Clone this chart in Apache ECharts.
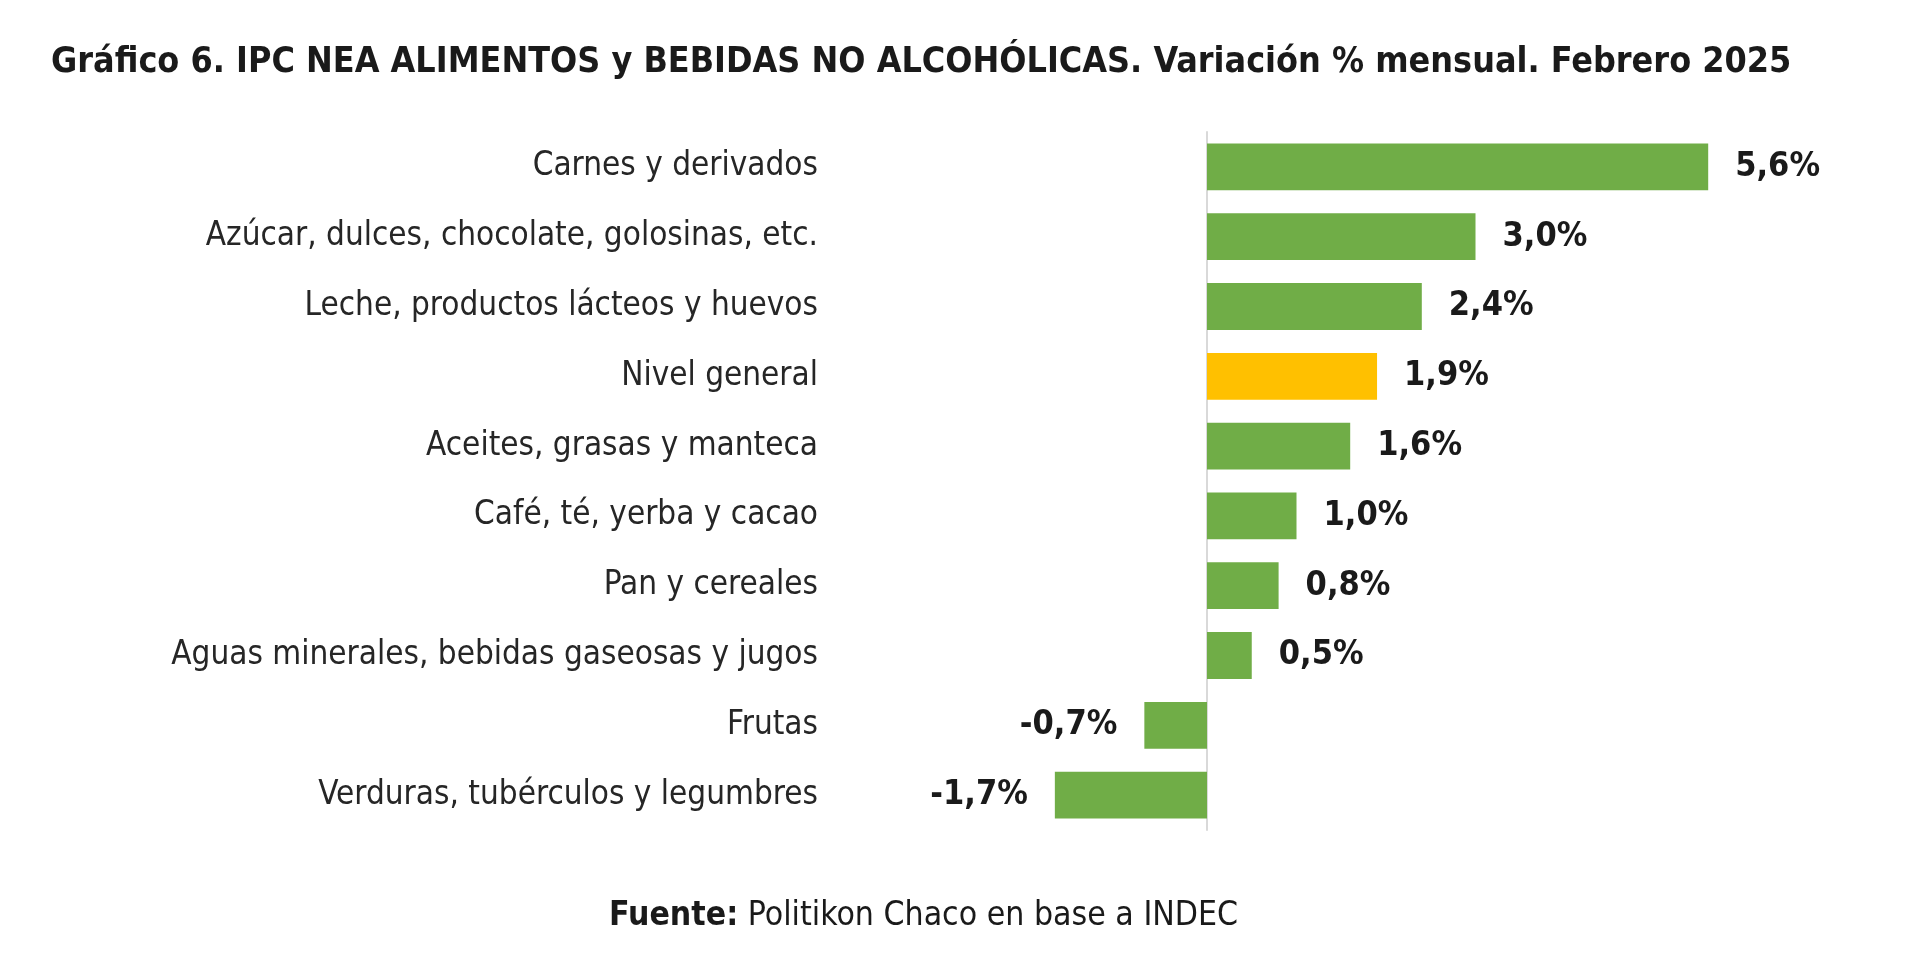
<!DOCTYPE html>
<html>
<head>
<meta charset="utf-8">
<title>IPC NEA Alimentos</title>
<script src="https://cdn.jsdelivr.net/npm/echarts@6/dist/echarts.min.js"></script>
<style>
    html, body { margin: 0; padding: 0; background: #fff; }
    #chart { width: 1920px; height: 965px; }
</style>
</head>
<body>
<div id="chart"></div>
<script>
// datos del gráfico
const categorias = [
    "Carnes y derivados",
    "Azúcar, dulces, chocolate, golosinas, etc.",
    "Leche, productos lácteos y huevos",
    "Nivel general",
    "Aceites, grasas y manteca",
    "Café, té, yerba y cacao",
    "Pan y cereales",
    "Aguas minerales, bebidas gaseosas y jugos",
    "Frutas",
    "Verduras, tubérculos y legumbres"
];
const variacion = [5.6, 3.0, 2.4, 1.9, 1.6, 1.0, 0.8, 0.5, -0.7, -1.7];
const destacado = "Nivel general";

const verde = "#70AD47";
const amarillo = "#FFC000";
const fuenteTexto = "'Liberation Sans Narrow', 'DejaVu Sans Condensed', sans-serif";

const ecIns = echarts.init(document.getElementById("chart"));

const option = {
    backgroundColor: "#fff",
    animation: false,
    title: [
        {
            text: "Gráfico 6. IPC NEA ALIMENTOS y BEBIDAS NO ALCOHÓLICAS. Variación % mensual. Febrero 2025",
            left: 46,
            top: 40,
            textStyle: {
                fontFamily: fuenteTexto,
                fontWeight: "bold",
                fontSize: 35.6,
                color: "#1a1a1a"
            }
        },
        {
            // fuente al pie
            text: "{b|Fuente:} Politikon Chaco en base a INDEC",
            left: 604,
            top: 894,
            textStyle: {
                fontFamily: fuenteTexto,
                fontSize: 33.5,
                fontWeight: "normal",
                color: "#1a1a1a",
                rich: {
                    b: {
                        fontFamily: fuenteTexto,
                        fontSize: 33.5,
                        fontWeight: "bold",
                        color: "#1a1a1a"
                    }
                }
            }
        }
    ],
    grid: {
        left: 1028,
        width: 716,
        top: 132,
        height: 698
    },
    xAxis: {
        type: "value",
        min: -2,
        max: 6,
        show: false
    },
    yAxis: {
        type: "category",
        inverse: true,
        data: categorias,
        axisLine: {
            onZero: true,
            lineStyle: { color: "#D9D9D9", width: 2 }
        },
        axisTick: { show: false },
        axisLabel: {
            margin: 210,
            fontFamily: fuenteTexto,
            fontSize: 33,
            color: "#262626"
        }
    },
    series: [
        {
            type: "bar",
            barCategoryGap: "33%",
            data: variacion.map((v, i) => ({
                value: v,
                itemStyle: { color: categorias[i] === destacado ? amarillo : verde },
                label: { position: v < 0 ? "left" : "right" }
            })),
            label: {
                show: true,
                distance: 27,
                fontFamily: fuenteTexto,
                fontSize: 34,
                fontWeight: "bold",
                color: "#1a1a1a",
                formatter: (p) => p.value.toFixed(1).replace(".", ",") + "%"
            }
        }
    ]
};

ecIns.setOption(option, true);
</script>
</body>
</html>
